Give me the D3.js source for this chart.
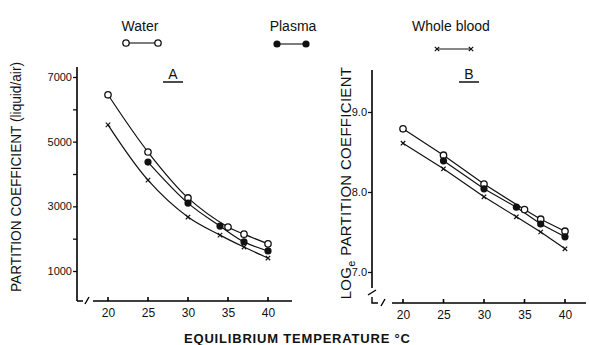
<!DOCTYPE html>
<html>
<head>
<meta charset="utf-8">
<script src="https://cdn.jsdelivr.net/npm/d3@7/dist/d3.min.js"></script>
<style>
  body { margin: 0; background: #fff; }
  svg { display: block; }
  text { font-family: "Liberation Sans", "DejaVu Sans", Arial, sans-serif; fill: #111; }
</style>
</head>
<body>
<div id="chart"></div>
<script>
// temperatures (deg C) and values
const waterTemps = [20, 25, 30, 35, 37, 40];
const plasmaTemps = [25, 30, 34, 37, 40];
const bloodTemps = [20, 25, 30, 34, 37, 40];

// panel A: partition coefficient (liquid/air)
const waterA = [6450, 4680, 3260, 2360, 2140, 1840];
const plasmaA = [4370, 3100, 2390, 1900, 1620];
const bloodA = [5520, 3810, 2670, 2110, 1740, 1400];

// panel B: log_e partition coefficient
const waterB = [8.79, 8.46, 8.10, 7.78, 7.66, 7.51];
const plasmaB = [8.39, 8.04, 7.81, 7.60, 7.44];
const bloodB = [8.61, 8.29, 7.94, 7.69, 7.50, 7.29];

const xTicks = [20, 25, 30, 35, 40];
const yTicksA = [1000, 2000, 3000, 4000, 5000, 6000, 7000];
const yLabelsA = [1000, 3000, 5000, 7000];
const yTicksB = [7, 8, 9];

const seriesNames = ["Water", "Plasma", "Whole blood"];
const markers = ["open", "filled", "cross"];

const width = 589, height = 345;

const svg = d3.select("#chart").append("svg")
  .attr("width", width)
  .attr("height", height);

function drawMarker(g, type, x, y) {
  if (type === "open") {
    g.append("circle").attr("cx", x).attr("cy", y).attr("r", 3.2)
      .attr("fill", "#fff").attr("stroke", "#111").attr("stroke-width", 1.3);
  } else if (type === "filled") {
    g.append("circle").attr("cx", x).attr("cy", y).attr("r", 3.6)
      .attr("fill", "#111");
  } else {
    const s = 2.2;
    g.append("path")
      .attr("d", `M${x - s},${y - s}L${x + s},${y + s}M${x - s},${y + s}L${x + s},${y - s}`)
      .attr("stroke", "#111").attr("stroke-width", 1.2);
  }
}

// legend
const legendX = [140, 293, 451];
const legendSym = [[126, 158, 43], [277, 306, 44], [437, 471, 49]];
seriesNames.forEach((name, i) => {
  svg.append("text")
    .attr("x", legendX[i]).attr("y", 31)
    .attr("text-anchor", "middle")
    .style("font-size", "14px")
    .text(name);
  const [x1, x2, y] = legendSym[i];
  svg.append("line")
    .attr("x1", x1).attr("x2", x2).attr("y1", y).attr("y2", y)
    .attr("stroke", "#111").attr("stroke-width", 1.1);
  drawMarker(svg, markers[i], x1, y);
  drawMarker(svg, markers[i], x2, y);
});

const panels = [
  {
    x: d3.scaleLinear().domain([20, 40]).range([108, 268]),
    y: d3.scaleLinear().domain([1000, 7000]).range([271, 77]),
    xAxisY: 301, xStart: 93, xEnd: 292,
    yAxisX: 77, yTop: 67, yBottom: 301,
    yTicks: yTicksA,
    tickFormat: d => yLabelsA.includes(d) ? d : "",
    breakPath: "M77,301H83M85,304L89,297",
    letter: "A", letterX: 173,
    curve: d3.curveCatmullRom,
    series: [
      { temps: waterTemps, values: waterA },
      { temps: plasmaTemps, values: plasmaA },
      { temps: bloodTemps, values: bloodA }
    ]
  },
  {
    x: d3.scaleLinear().domain([20, 40]).range([403, 565]),
    y: d3.scaleLinear().domain([7, 9]).range([272, 112]),
    xAxisY: 303, xStart: 392, xEnd: 586,
    yAxisX: 372, yTop: 70, yBottom: 288,
    yTicks: yTicksB,
    tickFormat: d3.format(".1f"),
    breakPath: "M368,295L376,290M372,297V303H378M381,306L385,299",
    letter: "B", letterX: 469,
    curve: d3.curveLinear,
    series: [
      { temps: waterTemps, values: waterB },
      { temps: plasmaTemps, values: plasmaB },
      { temps: bloodTemps, values: bloodB }
    ]
  }
];

panels.forEach(p => {
  const g = svg.append("g");

  // y axis ticks and labels
  const yAxis = g.append("g")
    .attr("transform", `translate(${p.yAxisX},0)`)
    .call(d3.axisLeft(p.y).tickValues(p.yTicks).tickSize(4).tickPadding(1)
      .tickFormat(p.tickFormat));
  yAxis.select(".domain").remove();
  yAxis.selectAll("line").attr("stroke", "#111").attr("stroke-width", 1.3);
  yAxis.selectAll("text").attr("fill", "#111").style("font-size", "11px");

  // x axis labels (ticks drawn further down)
  const xAxis = g.append("g")
    .attr("transform", `translate(0,${p.xAxisY})`)
    .call(d3.axisBottom(p.x).tickValues(xTicks).tickSize(0).tickPadding(7));
  xAxis.select(".domain").remove();
  xAxis.selectAll("line").remove();
  xAxis.selectAll("text").attr("fill", "#111").style("font-size", "12px");

  // panel letter
  g.append("text")
    .attr("x", p.letterX).attr("y", 79)
    .attr("text-anchor", "middle")
    .style("font-size", "14px")
    .text(p.letter);
  g.append("line")
    .attr("x1", p.letterX - 10).attr("x2", p.letterX + 10)
    .attr("y1", 82).attr("y2", 82)
    .attr("stroke", "#111").attr("stroke-width", 1.5);

  const line = d3.line()
    .x(d => p.x(d[0]))
    .y(d => p.y(d[1]))
    .curve(p.curve);

  p.series.forEach((s, i) => {
    const pts = s.temps.map((t, j) => [t, s.values[j]]);
    g.append("path")
      .attr("d", line(pts))
      .attr("fill", "none")
      .attr("stroke", "#111")
      .attr("stroke-width", 1.2);
  });
  p.series.forEach((s, i) => {
    s.temps.forEach((t, j) => drawMarker(g, markers[i], p.x(t), p.y(s.values[j])));
  });
});

// axis titles
svg.append("text")
  .attr("transform", "translate(21,177) rotate(-90)")
  .attr("text-anchor", "middle")
  .attr("textLength", 230)
  .attr("lengthAdjust", "spacingAndGlyphs")
  .style("font-size", "14px")
  .text("PARTITION COEFFICIENT (liquid/air)");

const bLabel = svg.append("text")
  .attr("transform", "translate(351,183) rotate(-90)")
  .attr("text-anchor", "middle")
  .style("font-size", "15px")
  .style("letter-spacing", "0.3px");
bLabel.append("tspan").text("LOG");
bLabel.append("tspan").attr("dy", 4).style("font-size", "11px").text("e");
bLabel.append("tspan").attr("dy", -4).text(" PARTITION  COEFFICIENT");

svg.append("text")
  .attr("x", 297).attr("y", 343)
  .attr("text-anchor", "middle")
  .attr("textLength", 226)
  .attr("lengthAdjust", "spacing")
  .style("font-size", "13px")
  .style("font-weight", "bold")
  .text("EQUILIBRIUM  TEMPERATURE  °C");

// axis lines, x ticks and break marks: drawn last, one path per panel
panels.forEach(p => {
  const ticks = xTicks.map(t => `M${p.x(t)},${p.xAxisY}V${p.xAxisY - 4}`).join("");
  svg.append("path")
    .attr("d", `M${p.yAxisX},${p.yTop}V${p.yBottom}M${p.xStart},${p.xAxisY}H${p.xEnd}${ticks}`)
    .attr("fill", "none")
    .attr("stroke", "#000")
    .attr("stroke-width", 1.6);
  svg.append("path")
    .attr("d", p.breakPath)
    .attr("fill", "none")
    .attr("stroke", "#000")
    .attr("stroke-width", 1.4);
});
</script>
</body>
</html>
